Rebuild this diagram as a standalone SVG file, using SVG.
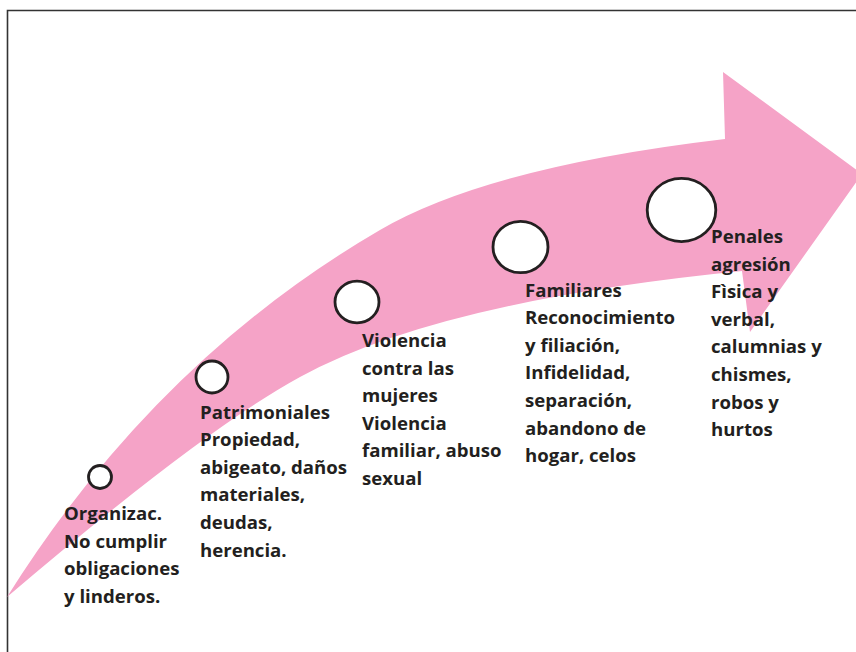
<svg xmlns="http://www.w3.org/2000/svg" width="856" height="652" viewBox="0 0 856 652">
<style>
.bg{fill:#ffffff}
.frame{fill:none;stroke:#333333;stroke-width:1.6}
.arrow{fill:#f5a3c7;stroke:none}
.dot{fill:#ffffff;stroke:#231f20;stroke-width:2.8}
.lbl{font-family:"Open Sans","Noto Sans","Liberation Sans",sans-serif;font-weight:bold;font-size:18.6px;fill:#231f20}
</style>
<rect class="bg" x="0" y="0" width="856" height="652"/>
<path class="frame" d="M7.5,652 V10.5 H856"/>
<g id="connectors">
<path id="arrow" class="arrow" d="M7,597 Q155,361 380,230 Q488,167 725,139 L723,72 L862,174 L750,332 L742,271 Q437,301.5 300,377 Q203,430 7,597 Z"/>
</g>
<g id="node1">
<circle class="dot" cx="100" cy="477" r="11.5"/>
<text class="lbl" x="64" y="520"><tspan x="64">Organizac.</tspan><tspan x="64" dy="27.6">No cumplir</tspan><tspan x="64" dy="27.6">obligaciones</tspan><tspan x="64" dy="27.6">y linderos.</tspan></text>
</g>
<g id="node2">
<circle class="dot" cx="212" cy="377" r="16"/>
<text class="lbl" x="200" y="418.5"><tspan x="200">Patrimoniales</tspan><tspan x="200" dy="27.6">Propiedad,</tspan><tspan x="200" dy="27.6">abigeato, daños</tspan><tspan x="200" dy="27.6">materiales,</tspan><tspan x="200" dy="27.6">deudas,</tspan><tspan x="200" dy="27.6">herencia.</tspan></text>
</g>
<g id="node3">
<ellipse class="dot" cx="357" cy="302" rx="22" ry="20.8"/>
<text class="lbl" x="362" y="347"><tspan x="362">Violencia</tspan><tspan x="362" dy="27.6">contra las</tspan><tspan x="362" dy="27.6">mujeres</tspan><tspan x="362" dy="27.6">Violencia</tspan><tspan x="362" dy="27.6">familiar, abuso</tspan><tspan x="362" dy="27.6">sexual</tspan></text>
</g>
<g id="node4">
<ellipse class="dot" cx="520.5" cy="247" rx="27.5" ry="25.7"/>
<text class="lbl" x="525" y="296.5"><tspan x="525">Familiares</tspan><tspan x="525" dy="27.6">Reconocimiento</tspan><tspan x="525" dy="27.6">y filiación,</tspan><tspan x="525" dy="27.6">Infidelidad,</tspan><tspan x="525" dy="27.6">separación,</tspan><tspan x="525" dy="27.6">abandono de</tspan><tspan x="525" dy="27.6">hogar, celos</tspan></text>
</g>
<g id="node5">
<ellipse class="dot" cx="681.5" cy="210" rx="34.3" ry="31.6"/>
<text class="lbl" x="711" y="243"><tspan x="711">Penales</tspan><tspan x="711" dy="27.6">agresión</tspan><tspan x="711" dy="27.6">Fìsica y</tspan><tspan x="711" dy="27.6">verbal,</tspan><tspan x="711" dy="27.6">calumnias y</tspan><tspan x="711" dy="27.6">chismes,</tspan><tspan x="711" dy="27.6">robos y</tspan><tspan x="711" dy="27.6">hurtos</tspan></text>
</g>
</svg>
